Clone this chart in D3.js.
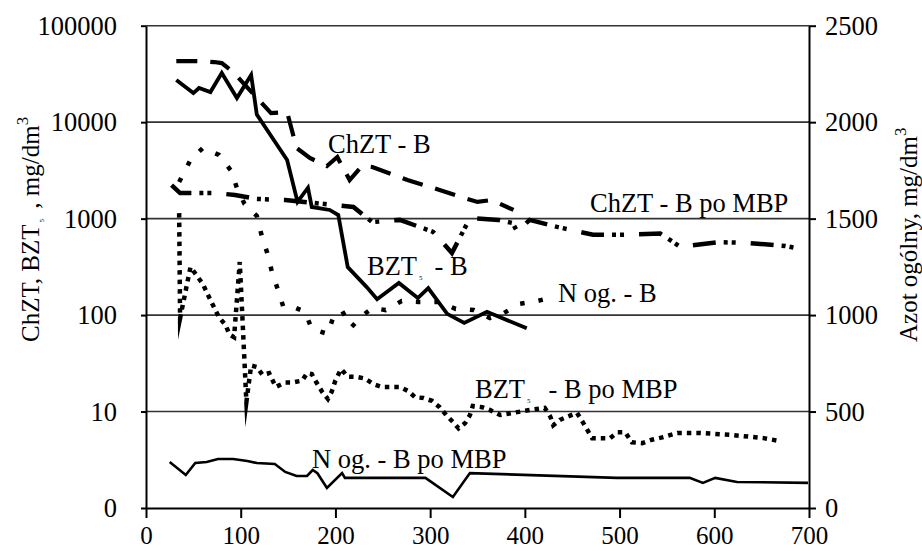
<!DOCTYPE html>
<html>
<head>
<meta charset="utf-8">
<script src="https://cdn.jsdelivr.net/npm/d3@7/dist/d3.min.js"></script>
<style>
  html, body { margin: 0; padding: 0; background: #fff; }
  svg { display: block; }
</style>
</head>
<body>
<svg id="chart" width="922" height="551"></svg>
<script>
// ---------- DATA ----------
const xTicks = [0, 100, 200, 300, 400, 500, 600, 700];
const leftTickValues = [1, 10, 100, 1000, 10000, 100000];
const leftTickLabels = ["0", "10", "100", "1000", "10000", "100000"];
const rightTicks = [0, 500, 1000, 1500, 2000, 2500];

// ChZT - B (left, log)
const chztB_x = [32, 56, 72, 80, 92, 132, 149, 159, 173, 191, 202, 215, 228, 239, 276, 310, 332, 350, 365, 388];
const chztB_y = [43000, 43000, 42000, 41000, 33000, 12400, 12700, 5400, 4250, 3510, 4350, 2510, 3510, 3430, 2510, 1980, 1680, 1490, 1560, 1230];

// BZT5 - B (left, log)
const bztB_x = [32, 50, 56, 68, 80, 96, 111, 117, 149, 160, 171, 175, 194, 203, 213, 233, 244, 267, 287, 298, 318, 336, 360, 402];
const bztB_y = [27400, 20000, 22600, 20500, 32300, 17800, 30800, 12000, 4050, 1490, 2090, 1320, 1230, 1090, 315, 195, 146, 215, 150, 190, 103, 83, 108, 73];

// ChZT - B po MBP (left, log)
const chztMBP_x = [27, 36, 73, 94, 117, 147, 219, 239, 268, 303, 323, 342, 372, 387, 392, 405, 434, 472, 500, 543, 564, 604, 635, 675, 699];
const chztMBP_y = [2230, 1840, 1840, 1760, 1600, 1560, 1320, 920, 970, 730, 440, 1015, 970, 900, 730, 970, 820, 680, 680, 700, 510, 570, 560, 520, 470];

// BZT5 - B po MBP (left, log)
const bztMBP_x = [35, 36, 47, 60, 68, 77, 84, 88, 93, 99, 106, 111, 117, 123, 130, 137, 147, 155, 165, 170, 175, 180, 186, 192, 196, 200, 206, 213, 223, 231, 240, 249, 258, 268, 277, 284, 293, 302, 310, 317, 324, 330, 337, 342, 345, 355, 363, 374, 406, 421, 427, 430, 437, 455, 461, 471, 490, 498, 506, 513, 524, 534, 545, 561, 585, 620, 652, 669];
const bztMBP_y = [1140, 93, 315, 210, 143, 95, 79, 63, 59, 355, 12.6, 30, 29, 24, 25, 18, 20, 20, 21, 25, 24.5, 20, 16, 13.5, 16, 21, 27.6, 23, 22.8, 22, 19.3, 18, 18, 18, 16.3, 14.1, 13.8, 12.9, 11.1, 9.2, 7.8, 6.7, 7.6, 9.2, 11.4, 11.1, 10.4, 9.2, 10.4, 10.9, 8.8, 7.2, 8.2, 9.7, 7.8, 5.3, 5.3, 6.1, 6.1, 4.8, 4.7, 5.1, 5.4, 6.0, 6.0, 5.7, 5.3, 4.95];

// N og. - B (right, linear)
const nB_x = [35, 47, 60, 77, 90, 96, 104, 117, 122, 128, 133, 139, 145, 156, 168, 175, 192, 198, 207, 217, 228, 239, 253, 270, 288, 310, 327, 346, 363, 378, 394, 413, 431];
const nB_y = [1690, 1804, 1866, 1830, 1747, 1659, 1576, 1514, 1415, 1322, 1223, 1135, 1042, 1042, 1016, 928, 902, 995, 1021, 938, 995, 1037, 1026, 1073, 1068, 1068, 1032, 1026, 985, 1011, 1058, 1073, 1094];

// N og. - B po MBP (right, linear)
const nMBP_x = [25, 42, 52, 64, 76, 92, 107, 117, 136, 147, 159, 170, 176, 181, 191, 207, 210, 295, 324, 342, 497, 574, 588, 601, 624, 699];
const nMBP_y = [238, 171, 233, 238, 254, 254, 244, 233, 228, 187, 166, 166, 197, 180, 104, 181, 156, 156, 57, 181, 156, 156, 130, 156, 135, 130];

// ---------- CHART ----------
const svg = d3.select("#chart");
const X0 = 146, X1 = 809, YT = 25.7, YB = 508;
const FS = 26.5;
const FONT = '"Liberation Serif"';

const x = d3.scaleLinear().domain([0, 700]).range([X0, X1]);
const yL = d3.scaleLog().domain([1, 100000]).range([YB, YT]);
const yR = d3.scaleLinear().domain([0, 2500]).range([YB, YT]);

// gridlines
svg.append("g").selectAll("line")
  .data(leftTickValues.slice(1))
  .join("line")
  .attr("x1", X0).attr("x2", X1)
  .attr("y1", d => yL(d)).attr("y2", d => yL(d))
  .attr("stroke", "#333").attr("stroke-width", 1.6);

// axes
function styleAxis(g, fs) {
  g.attr("font-family", null).attr("font-size", null);
  g.selectAll("path.domain").attr("stroke", "#000").attr("stroke-width", 2);
  g.selectAll(".tick line").attr("stroke", "#000").attr("stroke-width", 2);
  g.selectAll("text").style("font-family", FONT).style("font-size", (fs || FS) + "px").attr("fill", "#000");
}

svg.append("g")
  .attr("transform", `translate(${X0},0)`)
  .call(d3.axisLeft(yL).tickValues(leftTickValues).tickFormat((d, i) => leftTickLabels[i]).tickSize(5).tickSizeOuter(0).tickPadding(24))
  .call(g => styleAxis(g));

svg.append("g")
  .attr("transform", `translate(${X1},0)`)
  .call(d3.axisRight(yR).tickValues(rightTicks).tickFormat(d3.format("d")).tickSize(7).tickSizeOuter(0).tickPadding(9))
  .call(g => styleAxis(g));

svg.append("g")
  .attr("transform", `translate(0,${YB})`)
  .call(d3.axisBottom(x).tickValues(xTicks).tickFormat(d3.format("d")).tickSize(10).tickSizeOuter(0).tickPadding(8))
  .call(g => styleAxis(g, 25));

// series
function drawSeries(xs, ys, yScale, opts) {
  const pts = xs.map((v, i) => [v, ys[i]]);
  const line = d3.line().x(d => x(d[0])).y(d => yScale(d[1]));
  svg.append("path")
    .datum(pts)
    .attr("d", line)
    .attr("fill", "none")
    .attr("stroke", "#000")
    .attr("stroke-width", opts.w)
    .attr("stroke-dasharray", opts.dash || null)
    .attr("stroke-linejoin", "miter")
    .attr("stroke-miterlimit", 12)
    .attr("stroke-linecap", "butt");
}

drawSeries(nMBP_x, nMBP_y, yR, { w: 2.6 });
drawSeries(bztMBP_x, bztMBP_y, yL, { w: 4.5, dash: "4.5 5" });
drawSeries(nB_x, nB_y, yR, { w: 4.5, dash: "4.5 14" });
drawSeries(chztMBP_x, chztMBP_y, yL, { w: 4.5, dash: "23 8 4 4 4 15" });
drawSeries(chztB_x, chztB_y, yL, { w: 4.2, dash: "21 13" });
drawSeries(bztB_x, bztB_y, yL, { w: 3.8 });

// in-chart labels
function label(xp, yp, parts) {
  const t = svg.append("text").attr("x", xp).attr("y", yp)
    .style("font-family", FONT).style("font-size", FS + "px").style("white-space", "pre");
  parts.forEach(p => {
    const s = t.append("tspan").text(p.t);
    if (p.fs) s.style("font-size", p.fs + "px");
    if (p.dy) s.attr("dy", p.dy);
    if (p.dx) s.attr("dx", p.dx);
  });
}
label(328, 153, [{ t: "ChZT - B" }]);
label(590, 212, [{ t: "ChZT - B po MBP" }]);
label(367, 275, [{ t: "BZT" }, { t: "5", fs: 7, dy: 5, dx: 2 }, { t: "- B", dy: -5, dx: 12 }]);
label(558, 302, [{ t: "N og. - B" }]);
label(475, 398, [{ t: "BZT" }, { t: "5", fs: 7, dy: 5, dx: 2 }, { t: "- B po MBP", dy: -5, dx: 18 }]);
label(312, 468, [{ t: "N og. - B po MBP" }]);

// axis titles
const lt = svg.append("text")
  .attr("transform", "translate(39,342) rotate(-90)")
  .style("font-family", FONT).style("font-size", "25px").style("white-space", "pre");
lt.append("tspan").text("ChZT, BZT");
lt.append("tspan").text("5").style("font-size", "7px").attr("dy", 5).attr("dx", 2);
lt.append("tspan").text(" , mg/dm").attr("dy", -5).attr("dx", 4);
lt.append("tspan").text("3").style("font-size", "17px").attr("dy", -11);

const rt = svg.append("text")
  .attr("transform", "translate(917,342) rotate(-90)")
  .style("font-family", FONT).style("font-size", "25px").style("white-space", "pre");
rt.append("tspan").text("Azot ogólny, mg/dm");
rt.append("tspan").text("3").style("font-size", "17px").attr("dy", -11);
</script>
</body>
</html>
